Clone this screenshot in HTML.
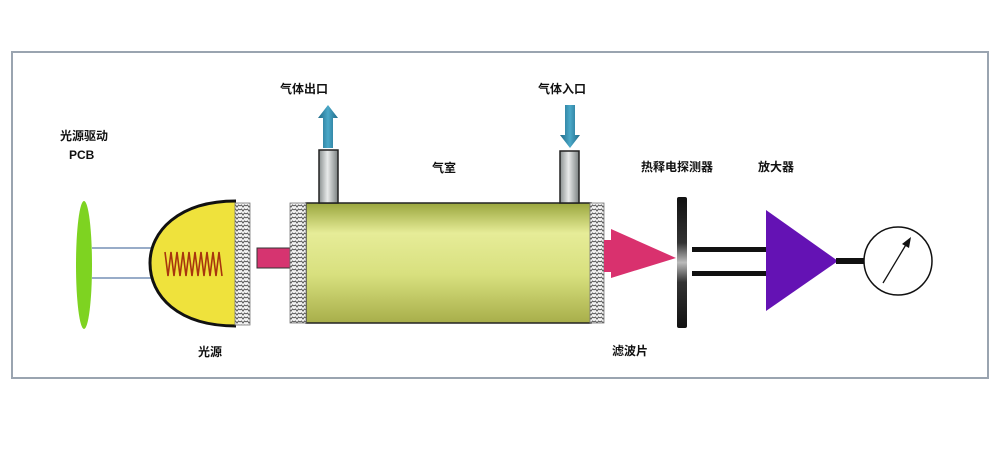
<!DOCTYPE html>
<html><head><meta charset="utf-8"><style>
body{margin:0;background:#fff;}
svg text{font-family:"Liberation Sans","Noto Sans CJK SC",sans-serif;font-size:12px;font-weight:bold;fill:#111;}
</style></head><body>
<svg width="1000" height="450" viewBox="0 0 1000 450" xmlns="http://www.w3.org/2000/svg">
<defs>
<pattern id="hatch" width="6" height="4" patternUnits="userSpaceOnUse">
<rect width="6" height="4" fill="#f4f4f4"/>
<path d="M0,2 L1.5,1 L3,3 L4.5,1 L6,2" stroke="#555" stroke-width="1" fill="none"/>
</pattern>
<linearGradient id="body" x1="0" y1="0" x2="0" y2="1">
<stop offset="0" stop-color="#9aa63e"/><stop offset="0.25" stop-color="#e6ec98"/><stop offset="0.6" stop-color="#d8e07e"/><stop offset="1" stop-color="#a8ae4a"/>
</linearGradient>
<linearGradient id="pipe" x1="0" y1="0" x2="1" y2="0">
<stop offset="0" stop-color="#8a9090"/><stop offset="0.45" stop-color="#e8eaea"/><stop offset="1" stop-color="#7a8080"/>
</linearGradient>
<linearGradient id="arr" x1="0" y1="0" x2="1" y2="0">
<stop offset="0" stop-color="#1f6a88"/><stop offset="0.5" stop-color="#4aa8c8"/><stop offset="1" stop-color="#1f6a88"/>
</linearGradient>
<linearGradient id="det" x1="0" y1="0" x2="0" y2="1">
<stop offset="0" stop-color="#111"/><stop offset="0.35" stop-color="#333"/><stop offset="0.5" stop-color="#bbb"/><stop offset="0.65" stop-color="#333"/><stop offset="1" stop-color="#111"/>
</linearGradient>
</defs>
<rect x="12" y="52" width="976" height="326" fill="#fff" stroke="#9aa4b0" stroke-width="2"/>

<ellipse cx="84" cy="265" rx="8" ry="64" fill="#7ed321"/>
<line x1="92" y1="248" x2="152" y2="248" stroke="#5a7aa8" stroke-width="1.2"/>
<line x1="92" y1="278" x2="152" y2="278" stroke="#5a7aa8" stroke-width="1.2"/>

<path d="M236,201 C178,201 150,232 150,263 C150,296 178,326 236,326 Z" fill="#efe23c"/>
<path d="M236,201 C178,201 150,232 150,263 C150,296 178,326 236,326" fill="none" stroke="#111" stroke-width="3"/>
<polyline fill="none" stroke="#a8340e" stroke-width="1.6" points="165,252 168,276 171,252 174,276 177,252 180,276 183,252 186,276 189,252 192,276 195,252 198,276 201,252 204,276 207,252 210,276 213,252 216,276 219,252 222,276"/>
<rect x="235" y="203" width="15" height="122" fill="url(#hatch)" stroke="#777" stroke-width="0.8"/>
<rect x="257" y="248" width="33" height="20" fill="#d63470" stroke="#333" stroke-width="1"/>

<rect x="306" y="203" width="285" height="120" fill="url(#body)" stroke="#222" stroke-width="1.5"/>
<rect x="290" y="203" width="16" height="120" fill="url(#hatch)" stroke="#777" stroke-width="0.8"/>
<rect x="590" y="203" width="14" height="120" fill="url(#hatch)" stroke="#777" stroke-width="0.8"/>

<rect x="319" y="150" width="19" height="53" fill="url(#pipe)" stroke="#222" stroke-width="1.5"/>
<rect x="560" y="151" width="19" height="52" fill="url(#pipe)" stroke="#222" stroke-width="1.5"/>
<path d="M323,148 L323,118 L318,118 L328,105 L338,118 L333,118 L333,148 Z" fill="url(#arr)"/>
<path d="M565,105 L575,105 L575,135 L580,135 L570,148 L560,135 L565,135 Z" fill="url(#arr)"/>

<path d="M604,240 L611,240 L611,229 L676,258 L611,278 L611,272 L604,272 Z" fill="#d9316e"/>
<rect x="677" y="197" width="10" height="131" rx="2" fill="url(#det)"/>
<rect x="692" y="247" width="74" height="5" fill="#111"/>
<rect x="692" y="271" width="74" height="5" fill="#111"/>
<path d="M766,210 L838,261 L766,311 Z" fill="#6412b4"/>
<rect x="836" y="258" width="29" height="6" fill="#111"/>
<circle cx="898" cy="261" r="34" fill="#fff" stroke="#111" stroke-width="1.5"/>
<line x1="883" y1="283" x2="907" y2="243" stroke="#111" stroke-width="1.3"/>
<path d="M911,237 L909,248 L902,244 Z" fill="#111"/>

<text x="280" y="93">气体出口</text>
<text x="538" y="93">气体入口</text>
<text x="432" y="172">气室</text>
<text x="60" y="140">光源驱动</text>
<text x="69" y="159">PCB</text>
<text x="198" y="356">光源</text>
<text x="612" y="355">滤波片</text>
<text x="641" y="171">热释电探测器</text>
<text x="758" y="171">放大器</text>
</svg>
</body></html>
